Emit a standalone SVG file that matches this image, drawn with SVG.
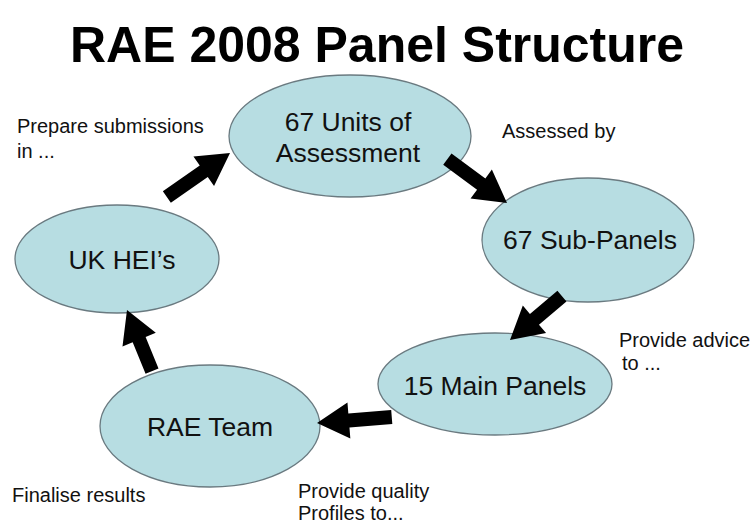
<svg xmlns="http://www.w3.org/2000/svg" width="754" height="525" viewBox="0 0 754 525">
  <style>
    .node ellipse { fill: #b7dde2; stroke: #6a7a80; stroke-width: 1.3; }
    .node text { font-family: "Liberation Sans", Arial, sans-serif; font-size: 26.5px; fill: #111; text-anchor: middle; }
    .label { font-family: "Liberation Sans", Arial, sans-serif; font-size: 20px; fill: #111; }
    .title { font-family: "Liberation Sans", Arial, sans-serif; font-size: 50px; font-weight: bold; fill: #000; text-anchor: middle; }
    .arrow { fill: #000; }
  </style>

  <rect width="754" height="525" fill="#fff"/>

  <text class="title" x="377" y="62">RAE 2008 Panel Structure</text>

  <g id="node-units" class="node">
    <ellipse cx="350" cy="136" rx="121" ry="61"/>
    <text x="348" y="131">67 Units of</text>
    <text x="348" y="162">Assessment</text>
  </g>

  <g id="node-subpanels" class="node">
    <ellipse cx="588" cy="240" rx="106" ry="62"/>
    <text x="590" y="249">67 Sub-Panels</text>
  </g>

  <g id="node-mainpanels" class="node">
    <ellipse cx="495" cy="384" rx="117" ry="51"/>
    <text x="495" y="395">15 Main Panels</text>
  </g>

  <g id="node-raeteam" class="node">
    <ellipse cx="210" cy="426" rx="110" ry="61"/>
    <text x="210" y="436">RAE Team</text>
  </g>

  <g id="node-ukhei" class="node">
    <ellipse cx="117" cy="259" rx="102" ry="54"/>
    <text x="122" y="269">UK HEI’s</text>
  </g>

  <!-- block arrows: tip at origin pointing along +x, tail at -L -->
  <g id="connectors" class="arrow">
    <path transform="translate(230,153) rotate(-34.9)" d="M0,0 L-32,-18 L-32,-7 L-77,-7 L-77,7 L-32,7 L-32,18 Z"/>
    <path transform="translate(507,203) rotate(36.3)" d="M0,0 L-32,-18 L-32,-7 L-74,-7 L-74,7 L-32,7 L-32,18 Z"/>
    <path transform="translate(510,340) rotate(139.8)" d="M0,0 L-32,-18 L-32,-7 L-68,-7 L-68,7 L-32,7 L-32,18 Z"/>
    <path transform="translate(317,423) rotate(175.4)" d="M0,0 L-32,-18 L-32,-7 L-75,-7 L-75,7 L-32,7 L-32,18 Z"/>
    <path transform="translate(127,310) rotate(-112.3)" d="M0,0 L-32,-18 L-32,-7 L-66,-7 L-66,7 L-32,7 L-32,18 Z"/>
  </g>

  <g id="labels">
    <text class="label" x="17" y="133">Prepare submissions</text>
    <text class="label" x="17" y="158">in ...</text>
    <text class="label" x="502" y="138">Assessed by</text>
    <text class="label" x="619" y="347">Provide advice</text>
    <text class="label" x="622" y="370">to  ...</text>
    <text class="label" x="12" y="502">Finalise results</text>
    <text class="label" x="298" y="498">Provide quality</text>
    <text class="label" x="298" y="520">Profiles to...</text>
  </g>
</svg>
